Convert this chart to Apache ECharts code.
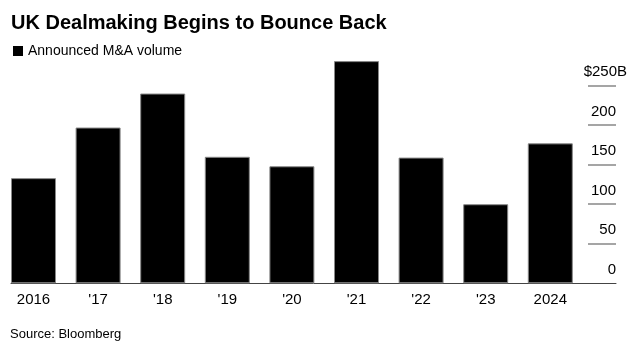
<!DOCTYPE html>
<html>
<head>
<meta charset="utf-8">
<script src="https://cdn.jsdelivr.net/npm/echarts@6/dist/echarts.min.js"></script>
<style>html,body{margin:0;padding:0;background:#fff}#c{width:642px;height:353px}</style>
</head>
<body>
<div id="c"></div>
<script>
// announced M&A volume, $B
const years = ['2016', "'17", "'18", "'19", "'20", "'21", "'22", "'23", '2024'];
const volume = [133, 197, 240, 160, 148, 281, 159, 100, 177];
const tickVals = [50, 100, 150, 200, 250];
const labelVals = [0, 50, 100, 150, 200, 250];
const FONT = 'Liberation Sans';

const c = echarts.init(document.getElementById('c'));
c.setOption({
  animation: false,
  textStyle: {fontFamily: FONT},
  title: [
    {text: 'UK Dealmaking Begins to Bounce Back', left: 11, top: 13, padding: 0,
     textStyle: {fontSize: 20, fontWeight: 'bold', color: '#000', fontFamily: FONT}},
    {text: 'Source: Bloomberg', left: 10, top: 328, padding: 0,
     textStyle: {fontSize: 13, fontWeight: 'normal', color: '#000', fontFamily: FONT}}
  ],
  legend: {
    left: 13, top: 44, padding: 0, icon: 'rect', itemWidth: 10, itemHeight: 10,
    itemStyle: {borderWidth: 0},
    textStyle: {fontSize: 14, color: '#000', fontFamily: FONT},
    data: ['Announced M&A volume']
  },
  grid: [
    {left: 1.2, right: 59.4, top: 54, bottom: 69.7},
    {left: 11, right: 26, top: 54, bottom: 69.7}
  ],
  xAxis: [
    {type: 'category', gridIndex: 0, data: years,
     axisLine: {show: false}, axisTick: {show: false},
     axisLabel: {fontSize: 15, color: '#000', margin: 9, interval: 0, fontFamily: FONT}},
    {type: 'category', gridIndex: 1, data: [''],
     axisLine: {show: true, lineStyle: {color: '#444', width: 1}},
     axisTick: {show: false}, axisLabel: {show: false}}
  ],
  yAxis: [
    {type: 'value', gridIndex: 0, min: 0, max: 290, show: false},
    {type: 'value', gridIndex: 1, min: 0, max: 290, position: 'right',
     splitLine: {show: false}, axisLine: {show: false},
     axisTick: {show: true, inside: true, length: 28, customValues: tickVals,
                lineStyle: {color: '#888', width: 1.5}},
     axisLabel: {inside: true, margin: -11, customValues: labelVals,
                 verticalAlign: 'bottom', padding: [0, 0, 6, 0],
                 fontSize: 15, color: '#000', fontFamily: FONT,
                 formatter: v => v === 250 ? '$250B' : '{n|' + v + '}',
                 rich: {n: {fontSize: 15, color: '#000', fontFamily: FONT, padding: [0, 11, 0, 0]}}}}
  ],
  series: [{
    name: 'Announced M&A volume', type: 'bar', xAxisIndex: 0, yAxisIndex: 0,
    data: volume, barWidth: 45,
    itemStyle: {color: '#000', borderColor: '#888', borderWidth: 1}
  }]
});
</script>
</body>
</html>
